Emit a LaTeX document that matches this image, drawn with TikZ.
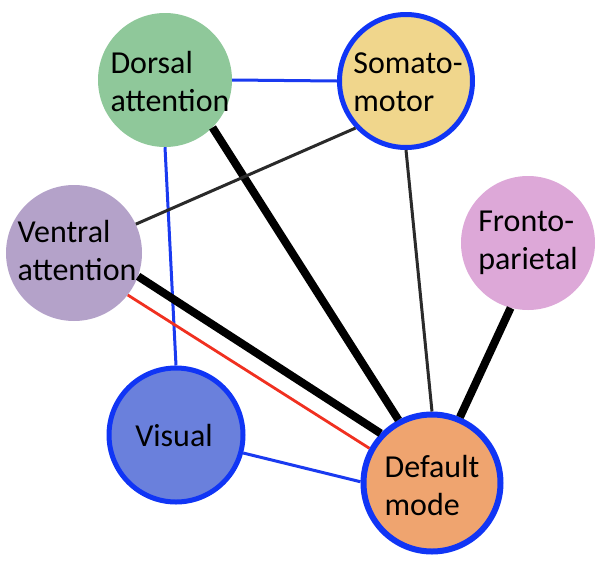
\documentclass[tikz,border=0pt]{standalone}
\usepackage{fontspec}
\setmainfont{Carlito}
\definecolor{cdorsal}{HTML}{8FC89A}
\definecolor{csomato}{HTML}{F0D68C}
\definecolor{cventral}{HTML}{B4A2C9}
\definecolor{cfronto}{HTML}{DDA8D8}
\definecolor{cvisual}{HTML}{6A80DC}
\definecolor{cdefault}{HTML}{EFA46F}
\definecolor{cborder}{HTML}{1035F5}
\definecolor{cblue}{HTML}{1A3AF0}
\definecolor{cred}{HTML}{F03020}
\definecolor{cdark}{HTML}{2A2A2A}
\begin{document}
\begin{tikzpicture}[x=1pt,y=-1pt,
  net/.style={circle, inner sep=0pt},
  bordered/.style={draw=cborder, line width=5pt},
  lbl/.style={align=left, font=\fontsize{32}{38}\selectfont, inner sep=0pt},
  strong/.style={line width=8pt, black},
  weak/.style={line width=3pt, cdark},
  blueedge/.style={line width=3pt, cblue},
  rededge/.style={line width=2.8pt, cred}]
\useasboundingbox (0,0) rectangle (600,563);
% circles
\node[net, fill=cdorsal, minimum size=134pt] (dorsal) at (165,80) {};
\node[net, fill=csomato, bordered, minimum size=133pt] (somato) at (406,81) {};
\node[net, fill=cventral, minimum size=136pt] (ventral) at (74,253) {};
\node[net, fill=cfronto, minimum size=134pt] (fronto) at (528,243) {};
\node[net, fill=cvisual, bordered, minimum size=134pt] (visual) at (176,435) {};
\node[net, fill=cdefault, bordered, line width=6pt, minimum size=137pt] (default) at (432,483) {};
% connectors
\draw[blueedge] (dorsal.east) -- (somato.west);
\draw[blueedge] (dorsal.-90) -- (visual.90);
\draw[strong] (dorsal.-45) -- (default.118);
\draw[weak] (somato.-137) -- (ventral.25);
\draw[weak] (somato.-90) -- (default.90);
\draw[strong] (ventral.-20) -- (default.136);
\draw[rededge] (ventral.-38) -- (default.151);
\draw[strong] (fronto.-105) -- (default.67);
\draw[blueedge] (visual.-15) -- (default.179);
% labels
\node[lbl] (tdorsal) at ([xshift=5pt,yshift=-2pt]dorsal.center) {Dorsal\\attention};
\node[lbl] (tsomato) at ([xshift=2pt,yshift=-1pt]somato.center) {Somato-\\motor};
\node[lbl] (tventral) at ([xshift=3pt,yshift=2pt]ventral.center) {Ventral\\attention};
\node[lbl] (tfronto) at ([xshift=0pt,yshift=0pt]fronto.center) {Fronto-\\parietal};
\node[lbl] (tvisual) at ([xshift=-2pt,yshift=0pt]visual.center) {Visual};
\node[lbl] (tdefault) at ([xshift=0pt,yshift=-2pt]default.center) {Default\\mode};
\end{tikzpicture}
\end{document}
